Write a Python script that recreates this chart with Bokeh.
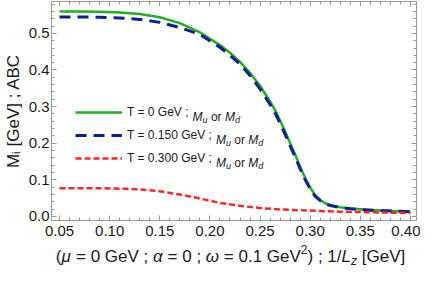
import math
from bokeh.plotting import figure
from bokeh.layouts import column
from bokeh.models import (Range1d, LinearAxis, FixedTicker, Legend, LegendItem,
                          Label, PrintfTickFormatter)
from bokeh.embed import file_html
from bokeh.resources import INLINE

# ---------------- data ----------------
x_t0 = [0.05, 0.07, 0.09, 0.11, 0.13, 0.15, 0.17, 0.19, 0.21, 0.22, 0.23, 0.24, 0.25,
        0.26, 0.265, 0.27, 0.275, 0.28, 0.285, 0.29, 0.295, 0.30, 0.305, 0.31, 0.315,
        0.32, 0.33, 0.34, 0.35, 0.36, 0.37, 0.38, 0.39, 0.40]
m_t0 = [0.560, 0.560, 0.559, 0.557, 0.553, 0.544, 0.528, 0.503, 0.468, 0.447, 0.422,
        0.392, 0.357, 0.314, 0.290, 0.262, 0.232, 0.200, 0.169, 0.136, 0.105, 0.079,
        0.058, 0.045, 0.036, 0.031, 0.025, 0.022, 0.020, 0.018, 0.016, 0.015, 0.014, 0.013]

x_t150 = [0.05, 0.07, 0.09, 0.11, 0.13, 0.15, 0.17, 0.19, 0.21, 0.22, 0.23, 0.24, 0.25,
          0.26, 0.265, 0.27, 0.275, 0.28, 0.285, 0.29, 0.295, 0.30, 0.305, 0.31, 0.315,
          0.32, 0.33, 0.34, 0.35, 0.36, 0.37, 0.38, 0.39, 0.40]
m_t150 = [0.545, 0.545, 0.544, 0.542, 0.538, 0.530, 0.516, 0.497, 0.462, 0.440, 0.416,
          0.385, 0.348, 0.306, 0.282, 0.254, 0.224, 0.193, 0.162, 0.130, 0.100, 0.075,
          0.055, 0.043, 0.035, 0.030, 0.024, 0.021, 0.019, 0.017, 0.016, 0.015, 0.014, 0.013]

x_t300 = [0.05, 0.07, 0.09, 0.11, 0.13, 0.15, 0.17, 0.19, 0.21, 0.23, 0.25, 0.27, 0.29,
          0.31, 0.33, 0.35, 0.37, 0.39, 0.40]
m_t300 = [0.077, 0.077, 0.077, 0.076, 0.074, 0.069, 0.060, 0.049, 0.037, 0.029, 0.023,
          0.019, 0.017, 0.015, 0.013, 0.012, 0.011, 0.010, 0.0095]

legend_labels = ["T = 0 GeV ;", "T = 0.150 GeV ;", "T = 0.300 GeV ;"]
y_title = "Mᵢ [GeV] ; ABC"

x_ticks = [0.05, 0.10, 0.15, 0.20, 0.25, 0.30, 0.35, 0.40]
x_tick_labels = ["0.05", "0.10", "0.15", "0.20", "0.25", "0.30", "0.35", "0.40"]
y_ticks = [0.0, 0.1, 0.2, 0.3, 0.4, 0.5]
y_tick_labels = ["0.0", "0.1", "0.2", "0.3", "0.4", "0.5"]
x_minor = [round(0.04 + 0.01 * i, 2) for i in range(38)]
y_minor = [round(-0.02 + 0.02 * i, 2) for i in range(31)]

# ---------------- styling ----------------
FONT = "Liberation Sans"
TXT = "#1a1a1a"
FRAME = "#999999"
GREEN = "#1faf1f"
BLUE = "#0c1f96"
RED = "#ff2424"

XH = 25            # height of the x-title strip
W, H = 420, 243    # main figure
ML, MR, MT, MB = 48, 4, 1, 23

p = figure(width=W, height=H, output_backend="svg", toolbar_location=None,
           x_range=Range1d(0.042, 0.406), y_range=Range1d(-0.011, 0.587),
           x_axis_type=None, y_axis_type=None,
           min_border_left=ML, min_border_right=MR, min_border_top=MT, min_border_bottom=MB)
p.outline_line_color = None
p.grid.visible = False
p.background_fill_color = "white"
p.border_fill_color = "white"


def make_axis(ticks, minor, labels, show, standoff=5):
    ax = LinearAxis(ticker=FixedTicker(ticks=ticks, minor_ticks=minor))
    ax.formatter = PrintfTickFormatter(format="%.2f")
    ax.major_label_overrides = dict(zip(ticks, labels))
    ax.axis_line_color = FRAME
    ax.major_tick_line_color = FRAME
    ax.minor_tick_line_color = FRAME
    ax.major_tick_in = 5
    ax.major_tick_out = 0
    ax.minor_tick_in = 3
    ax.minor_tick_out = 0
    if show:
        ax.major_label_text_font = FONT
        ax.major_label_text_font_size = "15px"
        ax.major_label_text_color = TXT
        ax.major_label_standoff = standoff
    else:
        ax.major_label_text_font_size = "0px"
        ax.major_label_text_color = None
        ax.major_label_standoff = 0
    return ax


p.add_layout(make_axis(x_ticks, x_minor, x_tick_labels, True, 5), "below")
p.add_layout(make_axis(x_ticks, x_minor, x_tick_labels, False), "above")
yax = make_axis(y_ticks, y_minor, y_tick_labels, True, 2)
yax.axis_label = y_title
yax.axis_label_text_font = FONT
yax.axis_label_text_font_size = "17px"
yax.axis_label_text_font_style = "normal"
yax.axis_label_text_color = TXT
yax.axis_label_standoff = 3
p.add_layout(yax, "left")
p.add_layout(make_axis(y_ticks, y_minor, y_tick_labels, False), "right")

r0 = p.line(x_t0, m_t0, line_color=GREEN, line_width=2.5)
r1 = p.line(x_t150, m_t150, line_color=BLUE, line_width=3, line_dash="11 7")
r2 = p.line(x_t300, m_t300, line_color=RED, line_width=2.5, line_dash="6 3")

LEG_X, LEG_Y = 24, 51
GLYPH_W, STANDOFF, ROW_H, SPACING = 47, 5, 22, 1
legend = Legend(items=[LegendItem(label=legend_labels[0], renderers=[r0]),
                       LegendItem(label=legend_labels[1], renderers=[r1]),
                       LegendItem(label=legend_labels[2], renderers=[r2])],
                location=(LEG_X, LEG_Y), padding=0, margin=0, spacing=SPACING,
                glyph_width=GLYPH_W, glyph_height=ROW_H, label_height=ROW_H,
                label_standoff=STANDOFF, label_text_font=FONT,
                label_text_font_size="12px", label_text_color=TXT,
                border_line_color=None, background_fill_alpha=0)
p.add_layout(legend)

# ---------------- rich text built from pieces ----------------
EM = {' ': 278, '(': 333, ')': 333, '=': 584, '.': 278, ';': 278, '/': 278, '[': 278,
      ']': 278, 'G': 778, 'e': 556, 'V': 667, 'T': 611, 'M': 833, 'L': 556, 'z': 500,
      'u': 556, 'd': 556, 'o': 556, 'r': 333, 'A': 667, 'B': 667, 'C': 722, 'i': 222,
      'μ': 576, 'α': 578, 'ω': 780}


def tw(s, size):
    return sum(EM.get(c, 556) for c in s) * size / 1000.0


def place(fig, pieces, x0, y0):
    adv = 0.0
    for text, size, style, dy in pieces:
        lead = len(text) - len(text.lstrip(" "))
        shown = text.strip(" ")
        off = adv + tw(" " * lead, size)
        fig.add_layout(Label(x=x0 + off, y=y0 + dy, x_units="screen", y_units="screen",
                             text=shown, text_font=FONT, text_font_size=f"{size}px",
                             text_font_style=style, text_color=TXT, text_align="left",
                             text_baseline="alphabetic"))
        adv += tw(text, size)


def total(pieces):
    return sum(tw(t, s) for t, s, _, _ in pieces)


# legend: "M_u or M_d" after each entry
for i, lab in enumerate(legend_labels):
    row_center = LEG_Y + (len(legend_labels) - 1 - i) * (ROW_H + SPACING) + ROW_H / 2
    base = row_center - 4.2
    x0 = LEG_X + GLYPH_W + STANDOFF + tw(lab + " ", 12)
    place(p, [("M", 12, "italic", 0), ("u", 9, "italic", -3), (" or ", 12, "normal", 0),
              ("M", 12, "italic", 0), ("d", 9, "italic", -3)], x0, base)

# x axis title, in a strip below the plot; its frame lines up with the plot frame
xfig = figure(width=W, height=XH, output_backend="svg", toolbar_location=None,
              x_axis_type=None, y_axis_type=None,
              min_border_left=ML, min_border_right=MR, min_border_top=0, min_border_bottom=0,
              x_range=Range1d(0, 1), y_range=Range1d(0, 1))
xfig.outline_line_color = None
xfig.grid.visible = False
xfig.background_fill_color = "white"
xfig.border_fill_color = "white"
xt = [("(", 17, "normal", 0), ("μ", 17, "italic", 0), (" = 0 GeV ; ", 17, "normal", 0),
      ("α", 17, "italic", 0), (" = 0 ; ", 17, "normal", 0), ("ω", 17, "italic", 0),
      (" = 0.1 GeV", 17, "normal", 0), ("2", 12, "normal", 7), (") ; 1/", 17, "normal", 0),
      ("L", 17, "italic", 0), ("z", 12, "italic", -4), (" [GeV]", 17, "normal", 0)]
place(xfig, xt, 227 - ML - total(xt) / 2, 12)

layout = column(p, xfig, spacing=0)
open("out.html", "w").write(file_html(layout, INLINE))
